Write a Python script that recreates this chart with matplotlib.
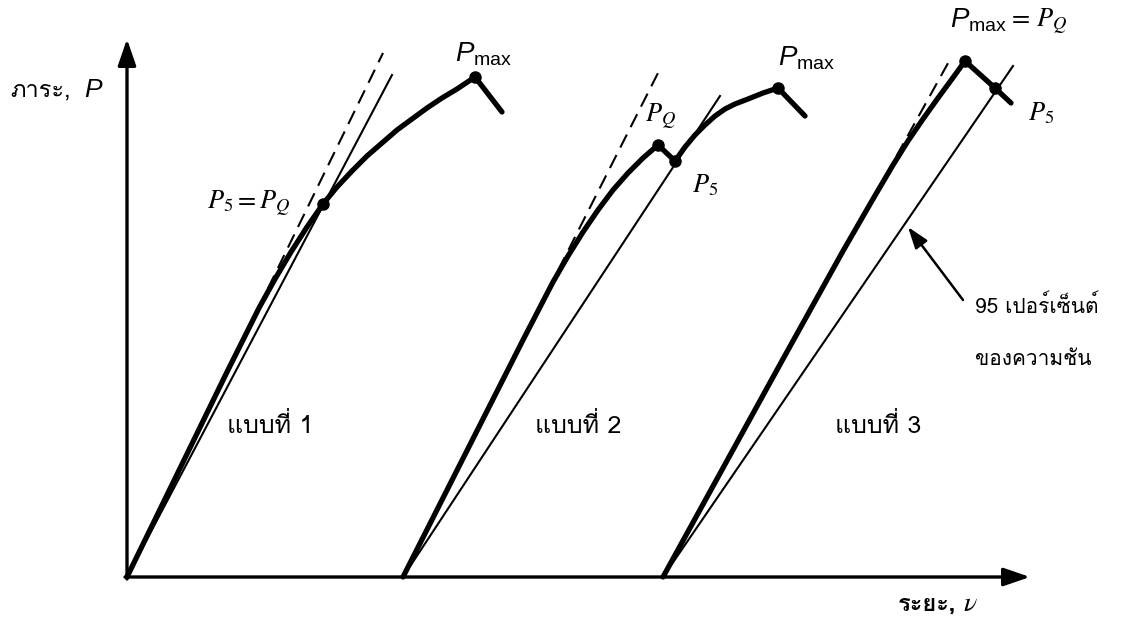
import numpy as np
import matplotlib
matplotlib.use("Agg")
import matplotlib.pyplot as plt

plt.rcParams['mathtext.fontset'] = 'custom'
plt.rcParams['mathtext.rm'] = 'Liberation Sans'
plt.rcParams['mathtext.it'] = 'Liberation Sans:italic'

THAI = ['Loma', 'Noto Sans Thai Looped', 'Liberation Sans']

# displacement at which each record starts
starts = [0, 276, 536]

# load-displacement records (displacement measured from each start)
curve1_x = [0, 100, 116, 132, 148, 164, 180, 196, 210, 225, 240, 255, 270,
            285, 300, 315, 330, 348, 375]
curve1_y = [0, 205, 237, 269, 298, 325, 350, 373, 390, 406, 421, 434, 447,
            458, 469, 479, 488, 500, 465]
curve2_x = [0, 120, 135, 150, 165, 180, 195, 210, 225, 240, 255, 272, 282,
            292, 302, 312, 322, 332, 345, 360, 375, 402]
curve2_y = [0, 237, 266, 295, 321, 345, 367, 387, 404, 419, 432, 416, 430,
            442, 452, 461, 468, 473, 478, 484, 489, 461]
curve3_x = [0, 120, 180, 210, 230, 245, 260, 275, 289, 302, 332, 348]
curve3_y = [0, 218, 326, 378, 412, 436, 458, 479, 498, 516, 489, 474]
curves = [(curve1_x, curve1_y), (curve2_x, curve2_y), (curve3_x, curve3_y)]

# initial tangent (dashed) and 95 % secant, as end points
tangent_end = [(256, 524), (255, 504), (289, 521)]
secant_end = [(265, 502), (317, 481), (350, 511)]

# marked points: index into the record
marked = [[7, 17], [10, 11, 20], [9, 10]]

fig = plt.figure(figsize=(11.26, 6.21), dpi=100)
ax = fig.add_axes([0, 0, 1, 1])
ax.set_xlim(-127, 999)
ax.set_ylim(-44, 577)
ax.axis('off')

# axes with arrow heads
axis_arrow = dict(arrowstyle='-|>,head_length=1.6,head_width=0.55',
                  lw=2.4, color='black', shrinkA=0, shrinkB=0)
ax.annotate('', xy=(903, 0), xytext=(-2, 0), arrowprops=axis_arrow)
ax.annotate('', xy=(0, 538), xytext=(0, -2), arrowprops=axis_arrow)

for x0, (cx, cy), te, se, mk in zip(starts, curves, tangent_end, secant_end, marked):
    cx = np.array(cx) + x0
    cy = np.array(cy)
    ax.plot([x0, x0 + te[0]], [0, te[1]], color='black', lw=1.5,
            dashes=(7, 4), solid_capstyle='butt')
    ax.plot([x0, x0 + se[0]], [0, se[1]], color='black', lw=1.5)
    ax.plot(cx, cy, color='black', lw=3.8, solid_joinstyle='round',
            solid_capstyle='round')
    ax.plot(cx[mk], cy[mk], 'o', color='black', ms=8)

# axis titles
ax.text(-117, 480, 'ภาระ,', family=THAI, fontsize=17, va='baseline')
ax.text(-43, 480, '$P$', fontsize=19, va='baseline')
ax.text(771, -34, 'ระยะ,', family=THAI, fontsize=17, va='baseline',
        fontweight='bold')
ax.text(836, -34, r'$\nu$', fontsize=20, va='baseline', math_fontfamily='stix')

# point labels
serif = dict(fontsize=19, math_fontfamily='stix', va='baseline')
sans = dict(fontsize=20, va='baseline')
ax.text(163, 368, r'$P_5 = P_Q$', ha='right', **serif)
ax.text(518, 455, r'$P_Q$', **serif)
ax.text(565, 385, r'$P_5$', **serif)
ax.text(901, 457, r'$P_5$', **serif)
ax.text(328, 515, r'$P_{\mathrm{max}}$', **sans)
ax.text(651, 512, r'$P_{\mathrm{max}}$', **sans)
ax.text(823, 550, r'$P_{\mathrm{max}}$', **sans)
ax.text(881, 550, r'$=\,P_Q$', **serif)

for x, n in zip([100, 408, 708], ['1', '2', '3']):
    ax.text(x, 144, 'แบบที่ ' + n, family=THAI, fontsize=18, va='baseline')

ax.annotate('', xy=(781, 350), xytext=(836, 277),
            arrowprops=dict(arrowstyle='-|>,head_length=1.3,head_width=0.45',
                            lw=1.8, color='black', shrinkA=0, shrinkB=0))
ax.text(848, 264, '95 เปอร์เซ็นต์', family=THAI, fontsize=15, va='baseline')
ax.text(848, 212, 'ของความชัน', family=THAI, fontsize=15, va='baseline')

fig.savefig('out.png', dpi=100)
